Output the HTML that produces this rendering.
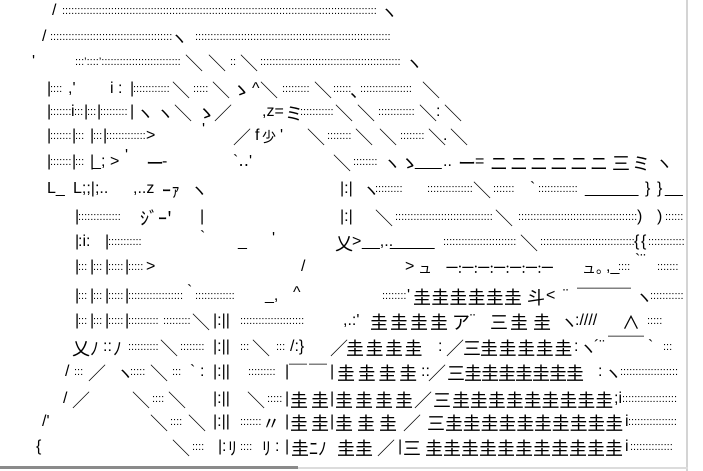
<!DOCTYPE html>
<html><head><meta charset="utf-8">
<style>
html,body{margin:0;padding:0;background:#fff}
#w{position:relative;width:703px;height:471px;overflow:hidden;background:#fff;color:#000}
.r{position:absolute;left:0;width:703px;height:20px}
.r>*{position:absolute;top:0;font:16px/16px "Liberation Sans",sans-serif;white-space:pre;font-style:normal}
.r>.d{font-size:11px;line-height:11px;top:3px}
.r>.c{font-family:"Noto Sans CJK JP","Liberation Sans",sans-serif;font-size:18px;line-height:18px;top:0}
</style></head><body><div id="w">

<div class="r" style="top:2.5px"><i style="left:52px">/</i><i class="d" style="left:62px">:::::::::::::::::::::::::::::::::::::::::::::::::::::::::::::::::::::::::::::::::::::::::::::::::::::::</i><i class="c" style="left:380px">ヽ</i></div>

<div class="r" style="top:28.5px"><i style="left:42px">/</i><i class="d" style="left:50px">::::::::::::::::::::::::::::::::::::::::</i><i class="c" style="left:170px">ヽ</i><i class="d" style="left:195px">::::::::::::::::::::::::::::::::::::::::::::::::::::::::::::::::</i></div>

<div class="r" style="top:53.5px"><i style="left:32px">'</i><i class="d" style="left:75px">:::’::::’::::::::::::::::::::::::::</i><i class="c" style="left:185px">＼</i><i class="c" style="left:208px">＼</i><i class="d" style="left:230px">::</i><i class="c" style="left:240px">＼</i><i class="d" style="left:260px">::::::::::::::::::::::::::::::::::::::::::::::</i><i class="c" style="left:405px">ヽ</i></div>

<div class="r" style="top:80.5px"><i style="left:47px">|</i><i class="d" style="left:50px">::::</i><i style="left:68px">,'</i><i style="left:110px">i</i><i style="left:118px">:</i><i style="left:130px">|</i><i class="d" style="left:133px">::::::::::::</i><i class="c" style="left:172px">＼</i><i class="d" style="left:193px">:::::</i><i class="c" style="left:212px">＼</i><i class="c" style="left:232px">ゝ</i><i style="left:252px">^</i><i class="c" style="left:260px">＼</i><i class="d" style="left:282px">:::::::::</i><i class="c" style="left:314px">＼</i><i class="d" style="left:333px">::::::</i><i class="c" style="left:350px">、</i><i class="d" style="left:360px">:::::::::::::::::</i><i class="c" style="left:422px">＼</i></div>

<div class="r" style="top:103.5px"><i style="left:47px">|</i><i class="d" style="left:50px">:::::::</i><i style="left:71px">i</i><i class="d" style="left:74px">:::</i><i style="left:84px">|</i><i class="d" style="left:87px">:::</i><i style="left:97px">|</i><i class="d" style="left:100px">:::::::::</i><i style="left:130px">|</i><i class="c" style="left:136px">ヽ</i><i class="c" style="left:156px">ヽ</i><i class="c" style="left:174px">＼</i><i class="c" style="left:197px">ゝ</i><i class="c" style="left:214px">／</i><i style="left:262px">,z=</i><i class="c" style="left:285px">ミ</i><i class="d" style="left:300px">:::::::::::</i><i class="c" style="left:335px">＼</i><i class="c" style="left:357px">＼</i><i class="d" style="left:378px">::::::::::::</i><i class="c" style="left:419px">＼</i><i style="left:436px">:</i><i class="c" style="left:444px">＼</i></div>

<div class="r" style="top:127.5px"><i style="left:47px">|</i><i class="d" style="left:50px">:::::::</i><i style="left:72px">|</i><i class="d" style="left:75px">:::</i><i style="left:90px">|</i><i class="d" style="left:93px">:::</i><i style="left:103px">|</i><i class="d" style="left:106px">:::::::::::::</i><i style="left:146px">&gt;</i><i style="left:202px;top:-6px">'</i><i class="c" style="left:233px">／</i><i style="left:255px">f</i><i class="c" style="left:262px;font-size:14px">少</i><i style="left:280px">'</i><i class="c" style="left:307px">＼</i><i class="d" style="left:327px">::::::::</i><i class="c" style="left:355px">＼</i><i class="c" style="left:379px">＼</i><i class="d" style="left:400px">::::::::</i><i class="c" style="left:428px">＼</i><i style="left:443px">.</i><i class="c" style="left:450px">＼</i></div>

<div class="r" style="top:153.5px"><i style="left:47px">|</i><i class="d" style="left:50px">:::::::</i><i style="left:72px">|</i><i class="d" style="left:75px">:::</i><i style="left:90px">|</i><i style="left:92px">_</i><i style="left:101px">;</i><i style="left:110px">&gt;</i><i style="left:125px;top:-6px">'</i><i class="c" style="left:146px">ー</i><i style="left:162px">-</i><i style="left:233px">`‥'</i><i class="c" style="left:333px">＼</i><i class="d" style="left:353px">::::::::</i><i class="c" style="left:383px">ヽ</i><i class="c" style="left:400px">ゝ</i><i style="left:415px">___</i><i style="left:443px">..</i><i class="c" style="left:458px">ー</i><i style="left:475px">=</i><i class="c" style="left:490px;letter-spacing:2px">ニニニニニニ</i><i class="c" style="left:612px">三</i><i class="c" style="left:632px">ミ</i><i class="c" style="left:655px">ヽ</i></div>

<div class="r" style="top:180.5px"><i style="left:47px">L_</i><i style="left:73px">L;;|;..</i><i style="left:133px">,..z</i><i class="c" style="left:162px">ｰｧ</i><i class="c" style="left:190px">ヽ</i><i style="left:340px">|:|</i><i class="c" style="left:362px">ヽ</i><i class="d" style="left:375px">:::::::::</i><i class="d" style="left:427px">:::::::::::::::</i><i class="c" style="left:473px">＼</i><i class="d" style="left:493px">:::::::</i><i style="left:530px">`</i><i class="d" style="left:538px">:::::::::::::</i><i style="left:585px">______</i><i style="left:645px">}</i><i style="left:657px">}</i><i style="left:665px">__</i></div>

<div class="r" style="top:208.5px"><i style="left:75px">|</i><i class="d" style="left:78px">::::::::::::::</i><i class="c" style="left:140px">ｼﾞｰ'</i><i style="left:200px">|</i><i style="left:340px">|:|</i><i class="c" style="left:375px">＼</i><i class="d" style="left:395px">::::::::::::::::::::::::::::::::</i><i class="c" style="left:495px">＼</i><i class="d" style="left:518px">:::::::::::::::::::::::::::::::::::::::</i><i style="left:637px">)</i><i style="left:657px">)</i><i class="d" style="left:665px">::::::</i></div>

<div class="r" style="top:233.5px"><i style="left:75px">|</i><i style="left:78px">:i:</i><i style="left:105px">|</i><i class="d" style="left:108px">:::::::::::</i><i style="left:200px;top:-4px">`</i><i style="left:238px">_</i><i style="left:272px;top:-3px">'</i><i class="c" style="left:335px">乂</i><i style="left:352px">&gt;</i><i style="left:362px">__,..</i><i style="left:390px">_____</i><i class="d" style="left:443px">::::::::::::::::::::::::</i><i class="c" style="left:520px">＼</i><i class="d" style="left:540px">:::::::::::::::::::::::::::::::</i><i style="left:634px">{</i><i style="left:641px">{</i><i class="d" style="left:648px">::::::::::::</i></div>

<div class="r" style="top:258.5px"><i style="left:75px">|</i><i class="d" style="left:78px">:::</i><i style="left:90px">|</i><i class="d" style="left:93px">:::</i><i style="left:105px">|</i><i class="d" style="left:108px">:::::</i><i style="left:125px">|</i><i class="d" style="left:128px">:::::</i><i style="left:146px">&gt;</i><i style="left:301px">/</i><i style="left:405px">&gt;</i><i class="c" style="left:418px;font-size:14px">ュ</i><i class="c" style="left:445px;font-size:14px;letter-spacing:-1px">ー:ー:ー:ー:ー:ー:ー</i><i class="c" style="left:582px;font-size:14px">ュ。</i><i style="left:606px">,_</i><i class="d" style="left:618px">::::</i><i style="left:635px;top:-6px">`¨</i><i class="d" style="left:657px">:::::::</i></div>

<div class="r" style="top:287.5px"><i style="left:75px">|</i><i class="d" style="left:78px">:::</i><i style="left:90px">|</i><i class="d" style="left:93px">:::</i><i style="left:105px">|</i><i class="d" style="left:108px">:::::</i><i style="left:125px">|</i><i class="d" style="left:128px">::::::::::::::::::</i><i style="left:187px;top:-4px">`</i><i class="d" style="left:195px">:::::::::::::</i><i style="left:265px">_,</i><i style="left:293px;top:-3px">^</i><i class="d" style="left:382px">::::::::</i><i style="left:407px">'</i><i class="c" style="left:413px;letter-spacing:0.2px">圭圭圭圭圭圭</i><i class="c" style="left:527px">斗</i><i style="left:546px">&lt;</i><i style="left:563px">¨</i><i class="c" style="left:577px">￣￣￣</i><i class="c" style="left:635px">ヽ</i><i class="d" style="left:650px">:::::::::::</i></div>

<div class="r" style="top:312.5px"><i style="left:75px">|</i><i class="d" style="left:78px">:::</i><i style="left:90px">|</i><i class="d" style="left:93px">:::</i><i style="left:105px">|</i><i class="d" style="left:108px">:::::</i><i style="left:125px">|</i><i class="d" style="left:128px">::::::::::</i><i class="d" style="left:163px">:::::::::</i><i class="c" style="left:192px">＼</i><i style="left:213px">|:||</i><i class="d" style="left:240px">:::::::::::::::::::::</i><i style="left:343px">,.:'</i><i class="c" style="left:370px;letter-spacing:2px">圭圭圭圭</i><i class="c" style="left:452px">ア</i><i style="left:470px">¨</i><i class="c" style="left:490px">三</i><i class="c" style="left:510px;letter-spacing:5px">圭圭</i><i class="c" style="left:560px">ヽ</i><i style="left:575px">:////</i><i class="c" style="left:622px">∧</i><i class="d" style="left:647px">:::::</i></div>

<div class="r" style="top:338.5px"><i class="c" style="left:72px;font-size:18px">乂</i><i class="c" style="left:90px">ﾉ</i><i style="left:103px">::</i><i class="c" style="left:113px">ﾉ</i><i class="d" style="left:128px">::::::::::</i><i class="c" style="left:160px">＼</i><i class="d" style="left:180px">::::::::</i><i style="left:213px">|:||</i><i class="d" style="left:240px">:::</i><i class="c" style="left:252px">＼</i><i class="d" style="left:276px">:::</i><i style="left:290px">/:}</i><i class="c" style="left:330px">／</i><i class="c" style="left:346px;letter-spacing:1.5px">圭圭圭圭</i><i style="left:438px">:</i><i class="c" style="left:446px">／</i><i class="c" style="left:463px">三</i><i class="c" style="left:480px;letter-spacing:0.6px">圭圭圭圭圭</i><i style="left:574px">:</i><i class="c" style="left:579px">ヽ</i><i style="left:594px">´¨</i><i class="c" style="left:608px;top:-3px">￣￣</i><i style="left:648px">`</i><i class="d" style="left:663px">:::</i></div>

<div class="r" style="top:363.5px"><i style="left:65px">/</i><i class="d" style="left:74px">:::</i><i class="c" style="left:88px">／</i><i class="c" style="left:116px">ヽ</i><i class="d" style="left:130px">:::::</i><i class="c" style="left:150px">＼</i><i class="d" style="left:172px">:::</i><i style="left:190px">`</i><i style="left:200px">:</i><i style="left:213px">|:||</i><i class="d" style="left:248px">:::::::::</i><i style="left:285px">|</i><i class="c" style="left:289px;letter-spacing:2px">￣￣</i><i style="left:330px">|</i><i class="c" style="left:337px;letter-spacing:2.7px">圭圭圭圭</i><i style="left:421px">::</i><i class="c" style="left:428px">／</i><i class="c" style="left:447px;letter-spacing:-1px">三圭圭圭圭圭圭圭</i><i style="left:598px">:</i><i class="c" style="left:604px">ヽ</i><i class="d" style="left:620px">:::::::::::::::::::</i></div>

<div class="r" style="top:390.5px"><i style="left:63px">/</i><i class="c" style="left:72px">／</i><i class="c" style="left:132px">＼</i><i class="d" style="left:152px">::::</i><i class="c" style="left:168px">＼</i><i style="left:213px">|:||</i><i class="c" style="left:247px">＼</i><i class="d" style="left:267px">:::::</i><i style="left:285px">|</i><i class="c" style="left:290px;letter-spacing:3px">圭圭</i><i style="left:330px">|</i><i class="c" style="left:335px;letter-spacing:2px">圭圭圭圭</i><i class="c" style="left:414px">／</i><i class="c" style="left:433px">三</i><i class="c" style="left:452px;letter-spacing:-0.1px">圭圭圭圭圭圭圭圭圭</i><i style="left:614px">;i</i><i class="d" style="left:622px">::::::::::::::::::</i></div>

<div class="r" style="top:413.5px"><i style="left:42px">/'</i><i class="c" style="left:150px">＼</i><i class="d" style="left:170px">::::</i><i class="c" style="left:188px">＼</i><i style="left:213px">|:||</i><i class="d" style="left:240px">:::::::</i><i class="c" style="left:262px">〃</i><i style="left:285px">|</i><i class="c" style="left:290px;letter-spacing:3px">圭圭</i><i style="left:330px">|</i><i class="c" style="left:335px;letter-spacing:4px">圭圭圭</i><i class="c" style="left:403px">／</i><i class="c" style="left:427px">三</i><i class="c" style="left:445px;letter-spacing:-0.2px">圭圭圭圭圭圭圭圭圭圭</i><i style="left:625px">i</i><i class="d" style="left:628px">::::::::::::::::</i></div>

<div class="r" style="top:438.5px"><i style="left:36px">{</i><i class="c" style="left:172px">＼</i><i class="d" style="left:192px">::::</i><i style="left:218px">|</i><i style="left:222px">:</i><i class="c" style="left:228px">ﾘ</i><i class="d" style="left:240px">::::</i><i class="c" style="left:262px">ﾘ</i><i style="left:275px">:</i><i style="left:285px">|</i><i class="c" style="left:291px">圭</i><i class="c" style="left:309px">ﾆﾉ</i><i class="c" style="left:337px;letter-spacing:0px">圭圭</i><i class="c" style="left:377px">／</i><i style="left:398px">|</i><i class="c" style="left:403px">三</i><i class="c" style="left:425px;letter-spacing:0px">圭圭圭圭圭圭圭圭圭圭圭</i><i style="left:625px">i</i><i class="d" style="left:630px">::::::::::::::</i></div>

<div style="position:absolute;left:686px;top:0;width:2px;height:471px;background:#d4d4d4"></div>
<div style="position:absolute;left:0;top:466px;width:298px;height:3px;background:#8a8a8a"></div>
<div style="position:absolute;left:298px;top:467px;width:390px;height:2px;background:#dcdcdc"></div>
</div></body></html>
